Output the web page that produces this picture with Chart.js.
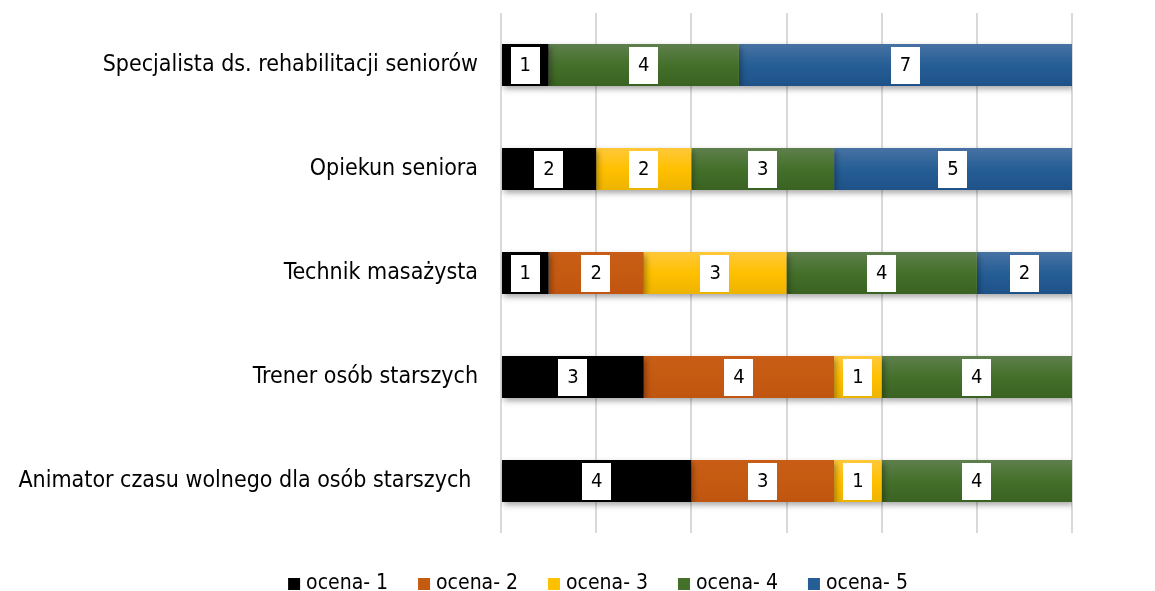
<!DOCTYPE html>
<html>
<head>
<meta charset="utf-8">
<script src="https://cdn.jsdelivr.net/npm/chart.js@4"></script>
<style>
  html, body { margin: 0; padding: 0; background: #fff; }
  #wrap { width: 1155px; height: 591px; }
</style>
</head>
<body>
<div id="wrap"><canvas id="myChart" width="1155" height="591"></canvas></div>
<script>
// data
const categories = [
    'Specjalista ds. rehabilitacji seniorów',
    'Opiekun seniora',
    'Technik masażysta',
    'Trener osób starszych',
    'Animator czasu wolnego dla osób starszych '
];
const ocena1 = [1, 2, 1, 3, 4];
const ocena2 = [0, 0, 2, 4, 3];
const ocena3 = [0, 2, 3, 1, 1];
const ocena4 = [4, 3, 4, 4, 4];
const ocena5 = [7, 5, 2, 0, 0];
const seriesNames = ['ocena- 1', 'ocena- 2', 'ocena- 3', 'ocena- 4', 'ocena- 5'];

const FONT = '"DejaVu Sans Condensed", "DejaVu Sans", sans-serif';

// colours: [top, middle, bottom] for a bit of Excel-like shading
const shades = [
    ['#000000', '#000000', '#000000'],
    ['#C85E16', '#C55A11', '#C05510'],
    ['#FFC83A', '#FFC000', '#EDB300'],
    ['#5F7F4D', '#44702A', '#3A6221'],
    ['#4872A3', '#255E95', '#1E5288']
];

function gradientFill(i) {
    return (ctx) => {
        const chart = ctx.chart;
        const y = chart.scales.y;
        if (!chart.chartArea || !y || ctx.dataIndex === undefined) return shades[i][1];
        const c = y.getPixelForValue(ctx.dataIndex);
        const g = chart.ctx.createLinearGradient(0, c - 21, 0, c + 21);
        g.addColorStop(0, shades[i][0]);
        g.addColorStop(0.5, shades[i][1]);
        g.addColorStop(1, shades[i][2]);
        return g;
    };
}

const allSeries = [ocena1, ocena2, ocena3, ocena4, ocena5];
const datasets = allSeries.map((vals, i) => ({
    label: seriesNames[i],
    data: vals.map(v => v === 0 ? null : v),
    backgroundColor: gradientFill(i),
    swatch: shades[i][1],
    borderWidth: 0,
    categoryPercentage: 1,
    barPercentage: 0.405
}));

// soft shadow under the bars
const barShadow = {
    id: 'barShadow',
    beforeDatasetsDraw(chart) {
        const ctx = chart.ctx;
        ctx.save();
        ctx.shadowColor = 'rgba(0,0,0,0.35)';
        ctx.shadowBlur = 6;
        ctx.shadowOffsetX = 2;
        ctx.shadowOffsetY = 3;
    },
    afterDatasetsDraw(chart) {
        chart.ctx.restore();
    }
};

// white boxes with values in the middle of each segment
const valueBoxes = {
    id: 'valueBoxes',
    afterDatasetsDraw(chart) {
        const ctx = chart.ctx;
        ctx.save();
        ctx.font = '20px ' + FONT;
        ctx.textAlign = 'center';
        ctx.textBaseline = 'middle';
        chart.data.datasets.forEach((ds, di) => {
            const meta = chart.getDatasetMeta(di);
            meta.data.forEach((bar, idx) => {
                const v = ds.data[idx];
                if (!v) return;
                const cx = (bar.x + bar.base) / 2;
                const cy = bar.y;
                const w = ctx.measureText(String(v)).width + 18;
                ctx.fillStyle = '#ffffff';
                ctx.fillRect(Math.round(cx - w / 2), Math.round(cy - 18), Math.round(w), 37);
                ctx.fillStyle = '#000000';
                ctx.fillText(String(v), cx, cy + 1);
            });
        });
        ctx.restore();
    }
};

// legend drawn by hand so it can sit low under the plot
const bottomLegend = {
    id: 'bottomLegend',
    afterDraw(chart) {
        const ctx = chart.ctx;
        ctx.save();
        ctx.font = '21px ' + FONT;
        ctx.textBaseline = 'middle';
        const box = 12, gap = 6, spacing = 30;
        const items = chart.data.datasets.map(ds => ({ text: ds.label, color: ds.swatch, w: box + gap + ctx.measureText(ds.label).width }));
        const total = items.reduce((s, it) => s + it.w, 0) + spacing * (items.length - 1);
        let x = 598 - total / 2;
        const y = 584;
        items.forEach(it => {
            ctx.fillStyle = it.color;
            ctx.fillRect(x, y - 6, box, box);
            ctx.fillStyle = '#000000';
            ctx.fillText(it.text, x + box + gap, y);
            x += it.w + spacing;
        });
        ctx.restore();
    }
};

const config = {
    type: 'bar',
    data: { labels: categories, datasets },
    options: {
        indexAxis: 'y',
        responsive: false,
        animation: false,
        layout: { padding: { top: 13, right: 83, bottom: 58, left: 0 } },
        plugins: {
            legend: { display: false },
            tooltip: { enabled: false }
        },
        scales: {
            x: {
                stacked: true,
                min: 0,
                max: 12,
                ticks: { stepSize: 2, display: false },
                grid: { color: '#d9d9d9', lineWidth: 2, drawTicks: false },
                border: { display: false }
            },
            y: {
                stacked: true,
                grid: { display: false, drawTicks: false },
                border: { display: false },
                ticks: { color: '#000000', font: { family: FONT, size: 23 }, padding: 23 },
                afterFit(scale) {
                    scale.width = 501;
                    scale.paddingTop = 0;
                    scale.paddingBottom = 0;
                }
            }
        }
    },
    plugins: [barShadow, valueBoxes, bottomLegend]
};

const myChart = new Chart(document.getElementById('myChart'), config);
</script>
</body>
</html>
